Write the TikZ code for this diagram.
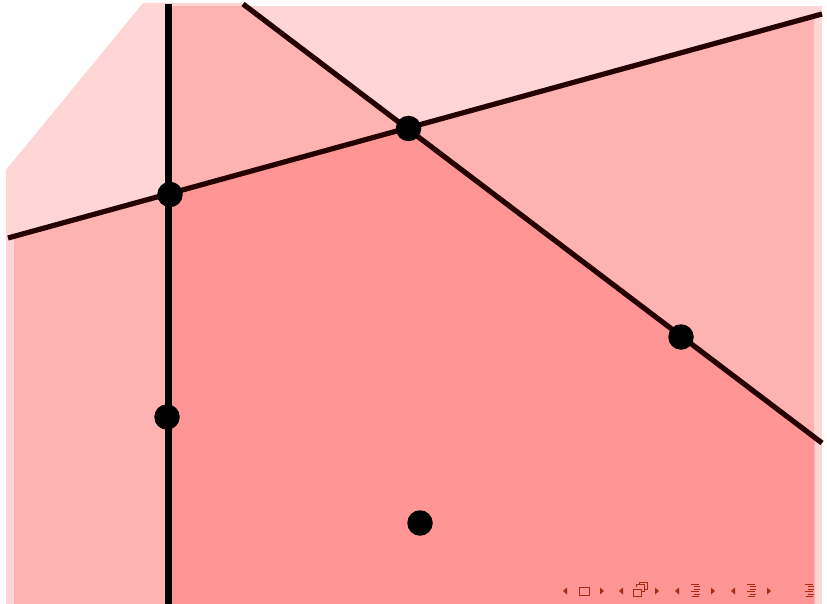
\documentclass[tikz,border=0pt]{standalone}
\definecolor{linedark}{HTML}{240000}
\definecolor{navred}{HTML}{A82A12}
\tikzset{
  halfplane/.style={fill=red, fill opacity=0.165, draw=none},
  bigline/.style={line width=5.2pt, draw=linedark},
  vline/.style={line width=7pt, draw=black},
  pt/.style={circle, fill=black, inner sep=0pt, minimum size=25.5pt},
  navtri/.style={fill=navred, draw=none},
  navicon/.style={draw=navred, line width=0.9pt},
}
\begin{document}
\begin{tikzpicture}[x=1pt,y=-1pt]
\useasboundingbox (0,0) rectangle (827,604);
% half-plane x >= vertical
\fill[halfplane] (168,6) -- (822,6) -- (822,604) -- (168,604) -- cycle;
% half-plane below L1
\fill[halfplane] (14,236.3) -- (814,16.2) -- (814,604) -- (14,604) -- cycle;
% half-plane below-left of L2
\fill[halfplane] (6,170) -- (143,3) -- (241.7,3) -- (815,438.3) -- (815,604) -- (6,604) -- cycle;
% lines
\coordinate (vt) at (168,4);
\coordinate (vb) at (168,604);
\coordinate (l1a) at (8,238);
\coordinate (l1b) at (822,14);
\coordinate (l2a) at (243,4);
\coordinate (l2b) at (822,443);
\draw[vline] (vt) -- (vb);
\draw[bigline] (l1a) -- (l1b);
\draw[bigline] (l2a) -- (l2b);
% points
\node[pt] (p1) at (170,194.5) {};
\node[pt] (p2) at (408.5,128.5) {};
\node[pt] (p3) at (681,337) {};
\node[pt] (p4) at (167,417) {};
\node[pt] (p5) at (420,523) {};
% navigation symbols
\foreach \x in {565,621,677,733} {
  \fill[navtri] (\x+2,587.5) -- (\x+2,594.5) -- (\x-2,591) -- cycle;
}
\foreach \x in {602,657,713,769} {
  \fill[navtri] (\x-2,587.5) -- (\x-2,594.5) -- (\x+2,591) -- cycle;
}
\draw[navicon] (579,587) rectangle (589,595);
\draw[navicon] (633,589) rectangle (641,596);
\draw[navicon] (636,586.5) -- (636,584.5) -- (644,584.5) -- (644,591.5) -- (641,591.5);
\draw[navicon] (639,584.5) -- (639,582.5) -- (647,582.5) -- (647,589.5) -- (644,589.5);
\foreach \x in {695,751,809} {
  \draw[navicon] (\x-4.5,584) -- (\x+3.5,584);
  \draw[navicon] (\x-1.5,586.5) -- (\x+4.5,586.5);
  \draw[navicon] (\x-1.5,589) -- (\x+4.5,589);
  \draw[navicon] (\x-4.5,591.5) -- (\x+3.5,591.5);
  \draw[navicon] (\x-1.5,594) -- (\x+4.5,594);
  \draw[navicon] (\x-3.5,596.5) -- (\x+3.5,596.5);
}
\end{tikzpicture}
\end{document}
